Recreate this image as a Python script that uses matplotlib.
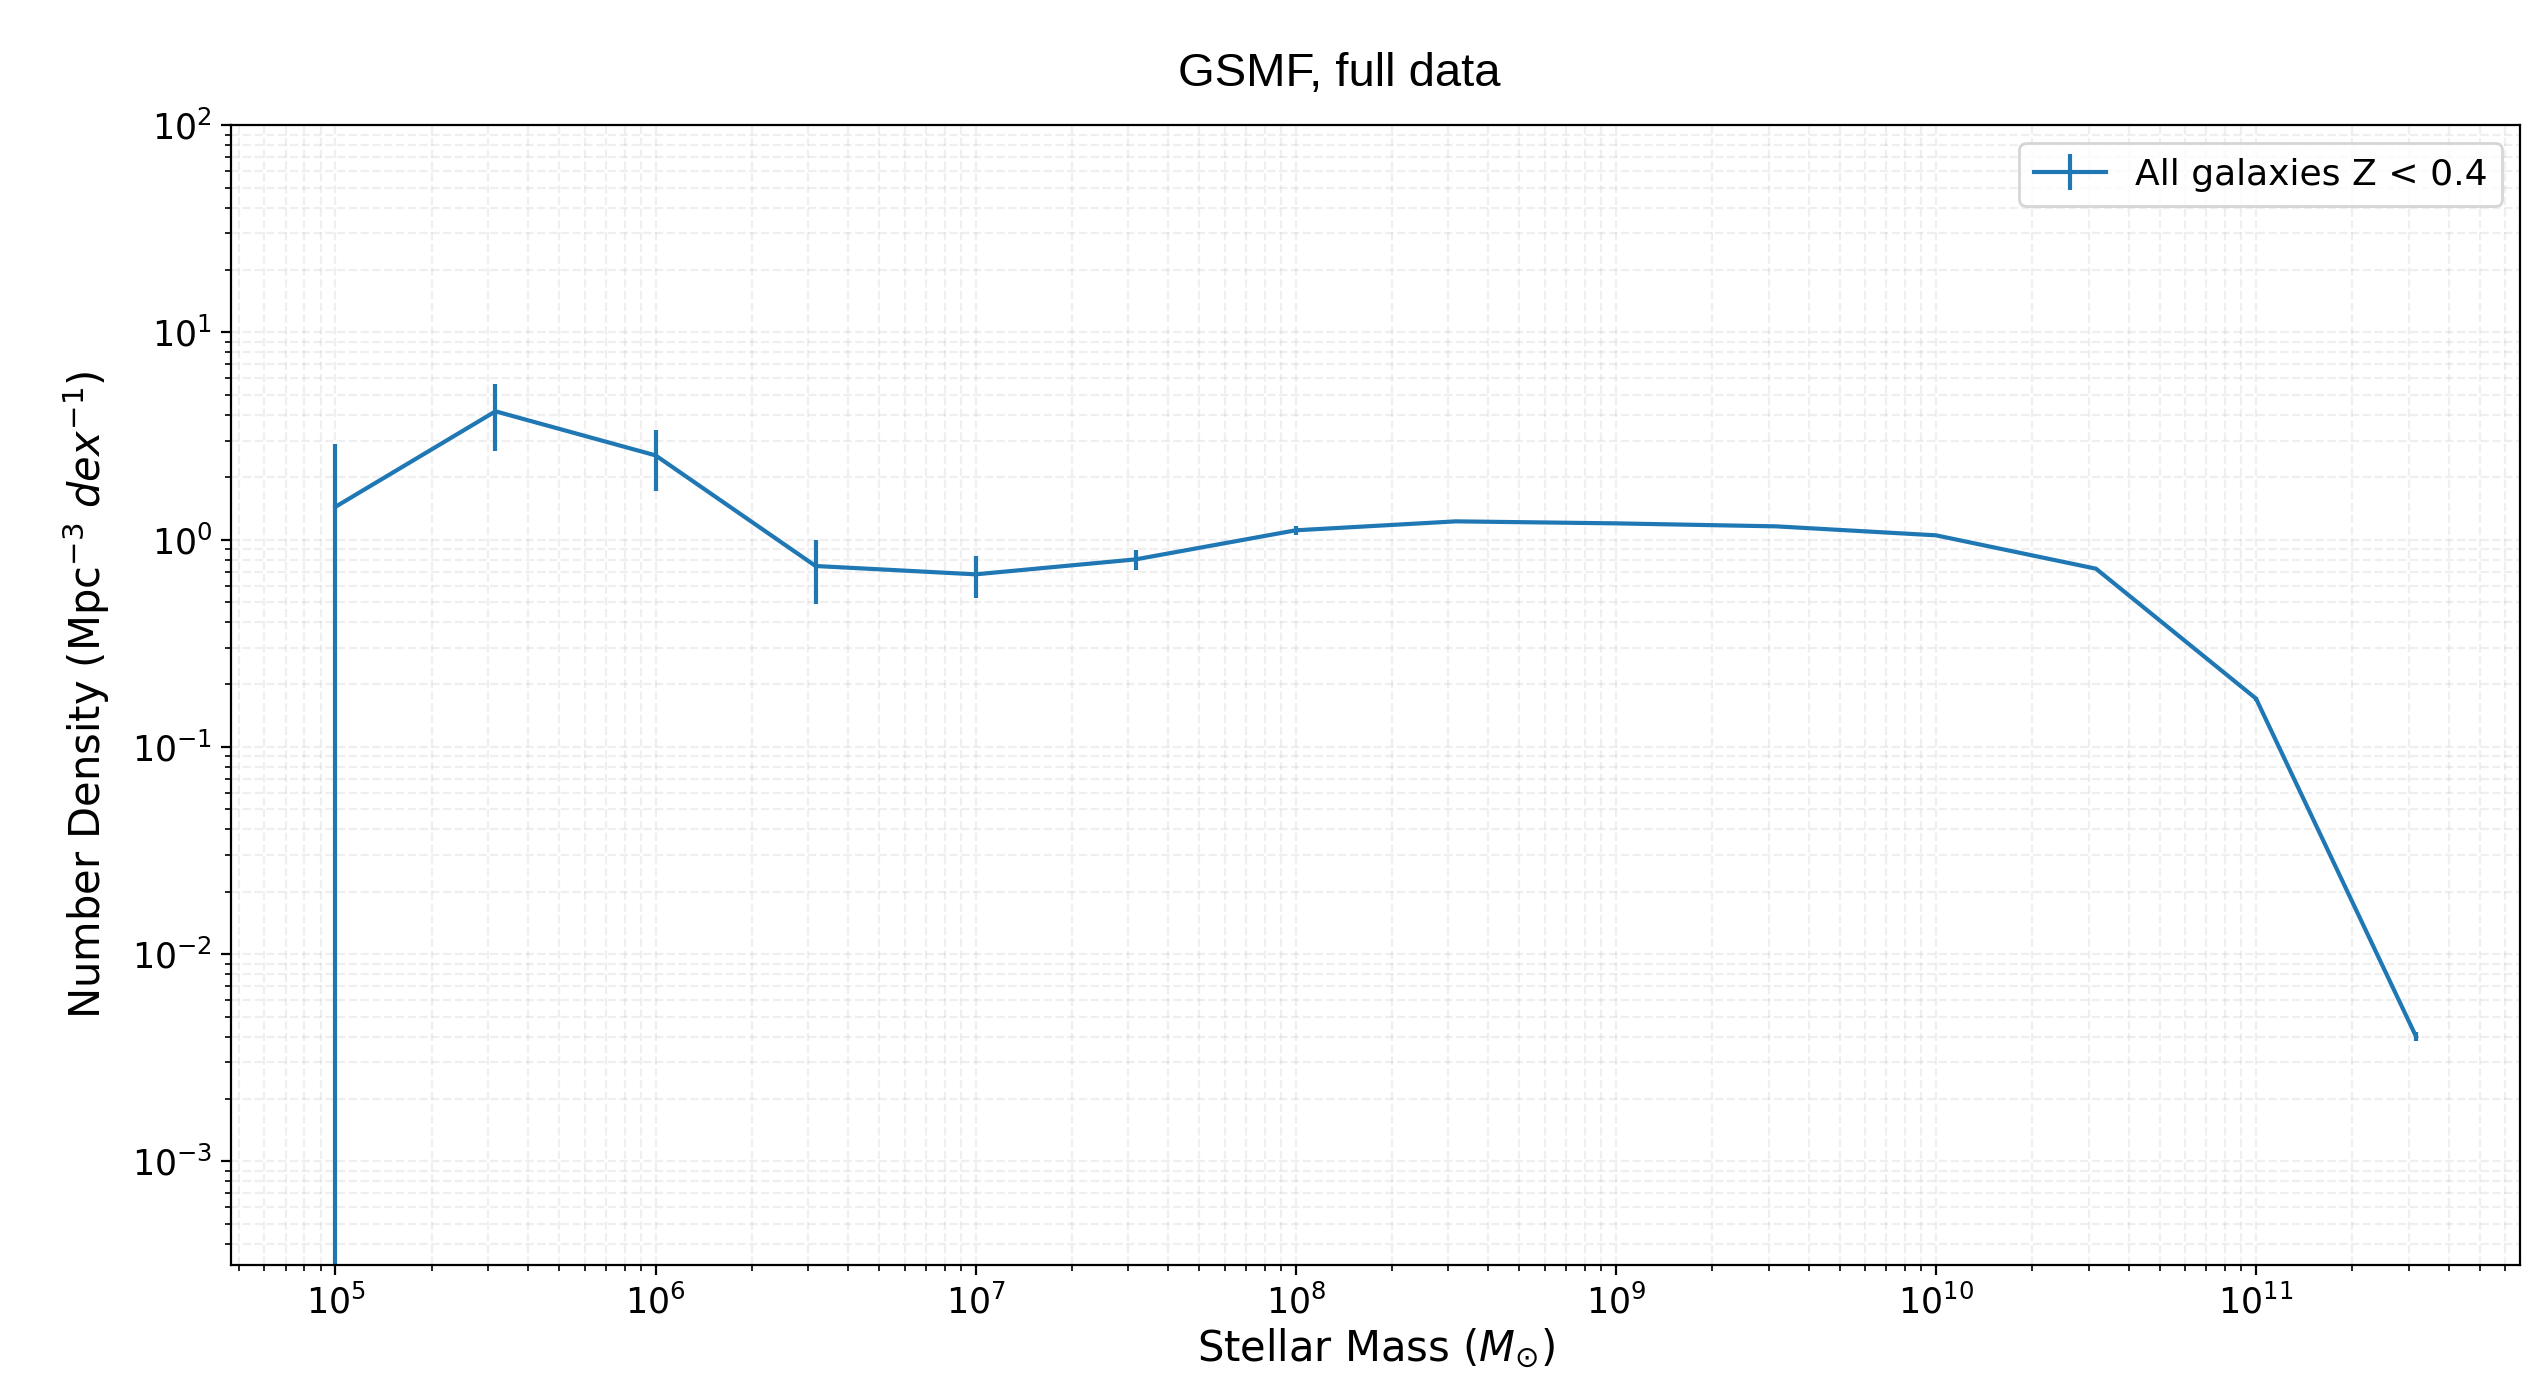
import matplotlib.pyplot as plt

# stellar mass bins (log10 M_sun) and measured number densities
log_mass = [5.0, 5.5, 6.0, 6.5, 7.0, 7.5, 8.0, 8.5, 9.0, 9.5, 10.0, 10.5, 11.0, 11.5]
density = [1.44, 4.16, 2.55, 0.746, 0.680, 0.803, 1.109, 1.225, 1.198, 1.159, 1.049, 0.724, 0.171, 0.0040]
density_err = [1.44, 1.48, 0.83, 0.255, 0.157, 0.088, 0.06, 0.02, 0.015, 0.012, 0.01, 0.008, 0.004, 0.0002]

mass = [10**m for m in log_mass]

fig, ax = plt.subplots(figsize=(12.715, 6.875), dpi=200)
fig.subplots_adjust(left=0.091, right=0.991, top=0.909, bottom=0.08)

ax.errorbar(mass, density, yerr=density_err, label="All galaxies Z < 0.4")
ax.set_xscale("log")
ax.set_yscale("log")
ax.set_ylim(10**-3.5, 1e2)

ax.set_title("GSMF, full data", fontsize=17, pad=14, family="Liberation Sans", x=0.484)
ax.set_xlabel(r"Stellar Mass ($M_{\odot}$)", fontsize=15, labelpad=2)
ax.set_ylabel(r"Number Density (Mpc$^{-3}$ $dex^{-1}$)", fontsize=15, labelpad=7)
ax.tick_params(labelsize=12.5)
ax.grid(True, which="both", ls="--", alpha=0.2)
ax.legend(loc="upper right", fontsize=13)

fig.savefig("out.png")
